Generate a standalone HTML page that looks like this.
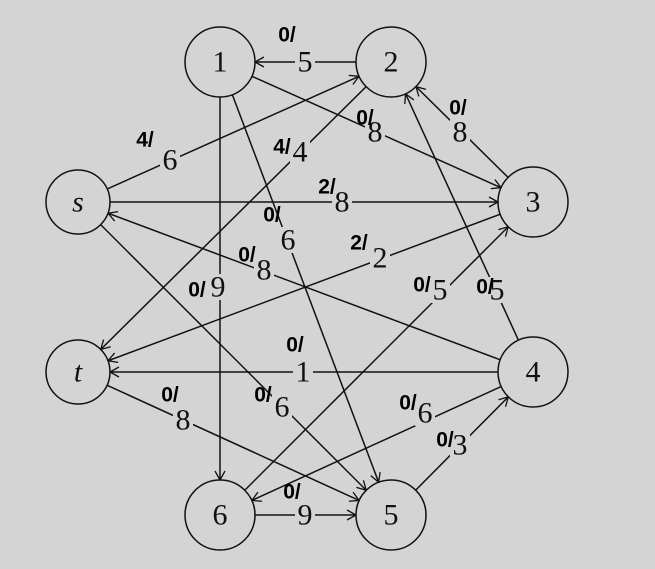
<!DOCTYPE html>
<html><head><meta charset="utf-8"><style>
html,body{margin:0;padding:0;background:#d4d4d4;}
svg{display:block;}
.n{font-family:"Liberation Serif",serif;font-size:30px;fill:#111;text-anchor:middle;dominant-baseline:central;}
.h{font-family:"Liberation Sans",sans-serif;font-weight:bold;font-size:21px;fill:#000;text-anchor:middle;dominant-baseline:central;}
</style></head><body>
<svg width="655" height="569" viewBox="0 0 655 569" xmlns="http://www.w3.org/2000/svg">
<defs>
<marker id="a35" markerUnits="userSpaceOnUse" markerWidth="50" markerHeight="12" refX="45" refY="6" orient="auto">
<path d="M1,1 L10,6 L1,11" fill="none" stroke="#111" stroke-width="1.3"/></marker>
<marker id="a32" markerUnits="userSpaceOnUse" markerWidth="50" markerHeight="12" refX="42" refY="6" orient="auto">
<path d="M1,1 L10,6 L1,11" fill="none" stroke="#111" stroke-width="1.3"/></marker>
</defs>
<rect width="655" height="569" fill="#d4d4d4"/>
<g stroke="#111" stroke-width="1.5" fill="none">
<line x1="391" y1="62" x2="220" y2="62" marker-end="url(#a35)"/>
<line x1="78" y1="202" x2="391" y2="62" marker-end="url(#a35)"/>
<line x1="391" y1="62" x2="78" y2="372" marker-end="url(#a32)"/>
<line x1="220" y1="62" x2="533" y2="202" marker-end="url(#a35)"/>
<line x1="533" y1="202" x2="391" y2="62" marker-end="url(#a35)"/>
<line x1="78" y1="202" x2="533" y2="202" marker-end="url(#a35)"/>
<line x1="220" y1="62" x2="391" y2="515" marker-end="url(#a35)"/>
<line x1="220" y1="62" x2="220" y2="515" marker-end="url(#a35)"/>
<line x1="533" y1="372" x2="78" y2="202" marker-end="url(#a32)"/>
<line x1="533" y1="202" x2="78" y2="372" marker-end="url(#a32)"/>
<line x1="220" y1="515" x2="533" y2="202" marker-end="url(#a35)"/>
<line x1="533" y1="372" x2="391" y2="62" marker-end="url(#a35)"/>
<line x1="533" y1="372" x2="78" y2="372" marker-end="url(#a32)"/>
<line x1="78" y1="202" x2="391" y2="515" marker-end="url(#a35)"/>
<line x1="78" y1="372" x2="391" y2="515" marker-end="url(#a35)"/>
<line x1="533" y1="372" x2="220" y2="515" marker-end="url(#a35)"/>
<line x1="391" y1="515" x2="533" y2="372" marker-end="url(#a35)"/>
<line x1="220" y1="515" x2="391" y2="515" marker-end="url(#a35)"/>
</g>
<g fill="#d4d4d4" stroke="#111" stroke-width="1.5">
<circle cx="220" cy="62" r="35"/><circle cx="391" cy="62" r="35"/>
<circle cx="533" cy="202" r="35"/><circle cx="533" cy="372" r="35"/>
<circle cx="391" cy="515" r="35"/><circle cx="220" cy="515" r="35"/>
<circle cx="78" cy="202" r="32"/><circle cx="78" cy="372" r="32"/>
</g>
<g class="n">
<text x="220" y="62">1</text><text x="391" y="62">2</text><text x="533" y="202">3</text>
<text x="533" y="372">4</text><text x="391" y="515">5</text><text x="220" y="515">6</text>
<text x="78" y="202" font-style="italic">s</text><text x="78" y="372" font-style="italic">t</text>
</g>
<g fill="#d4d4d4">
<rect x="295" y="49" width="20" height="26"/><rect x="160" y="147" width="20" height="26"/>
<rect x="290" y="139" width="20" height="26"/><rect x="365" y="119" width="20" height="26"/>
<rect x="450" y="119" width="20" height="26"/><rect x="332" y="189" width="20" height="26"/>
<rect x="278" y="227" width="20" height="26"/><rect x="254" y="257" width="20" height="26"/>
<rect x="370" y="245" width="20" height="26"/><rect x="208" y="274" width="20" height="26"/>
<rect x="430" y="277" width="20" height="26"/><rect x="487" y="277" width="20" height="26"/>
<rect x="293" y="359" width="20" height="26"/><rect x="272" y="394" width="20" height="26"/>
<rect x="173" y="407" width="20" height="26"/><rect x="415" y="400" width="20" height="26"/>
<rect x="450" y="432" width="20" height="26"/><rect x="295" y="502" width="20" height="26"/>
</g>
<g class="n">
<text x="305" y="62">5</text><text x="170" y="160">6</text><text x="300" y="152">4</text>
<text x="375" y="132">8</text><text x="460" y="132">8</text><text x="342" y="202">8</text>
<text x="288" y="240">6</text><text x="264" y="270">8</text><text x="380" y="258">2</text>
<text x="218" y="287">9</text><text x="440" y="290">5</text><text x="497" y="290">5</text>
<text x="303" y="372">1</text><text x="282" y="407">6</text><text x="183" y="420">8</text>
<text x="425" y="413">6</text><text x="460" y="445">3</text><text x="305" y="515">9</text>
</g>
<g class="h">
<text x="287" y="35">0/</text><text x="145" y="140">4/</text><text x="282" y="147">4/</text>
<text x="365" y="118">0/</text><text x="458" y="108">0/</text><text x="327" y="187">2/</text>
<text x="272" y="215">0/</text><text x="247" y="255">0/</text><text x="359" y="243">2/</text>
<text x="197" y="290">0/</text><text x="422" y="285">0/</text><text x="485" y="287">0/</text>
<text x="295" y="345">0/</text><text x="263" y="395">0/</text><text x="170" y="395">0/</text>
<text x="408" y="403">0/</text><text x="445" y="440">0/</text><text x="292" y="492">0/</text>
</g>
</svg>
</body></html>
